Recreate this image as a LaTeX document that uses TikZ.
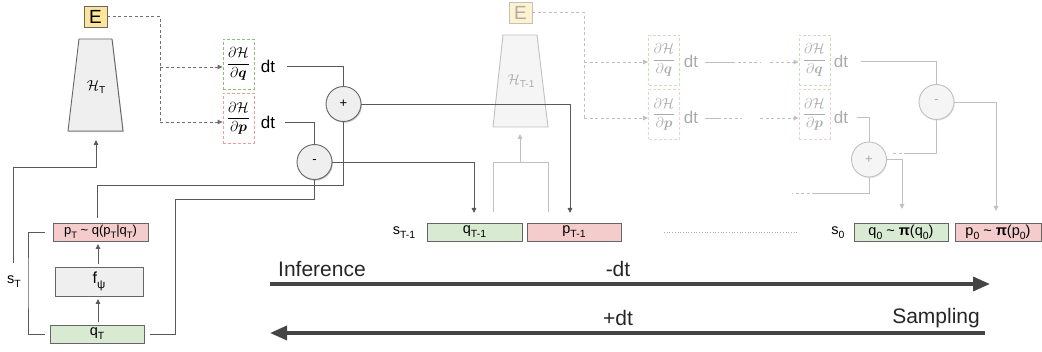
\documentclass[tikz,border=0pt]{standalone}
\usepackage{fontspec}
\usepackage{amsmath}
\usepackage{graphicx}
\setmainfont{Liberation Sans}
\usetikzlibrary{arrows.meta,shadows,calc}
\newcommand\lsub[1]{\raisebox{-0.5ex}{\scalebox{0.72}{#1}}}
\definecolor{ln}{HTML}{595959}
\definecolor{bd}{HTML}{666666}
\definecolor{gfill}{HTML}{D9EAD3}
\definecolor{rfill}{HTML}{F4CCCC}
\definecolor{grayfill}{HTML}{EFEFEF}
\definecolor{ffill}{HTML}{F5F5F5}
\definecolor{yfill}{HTML}{FFE599}
\definecolor{yfade}{HTML}{FFF2CC}
\definecolor{fade}{HTML}{C0C0C0}
\definecolor{fadetext}{HTML}{ABABAB}
\definecolor{dashc}{HTML}{6F6F6F}
\definecolor{gdash}{HTML}{8CC07A}
\definecolor{rdash}{HTML}{EA9F9F}
\definecolor{gdashf}{HTML}{C6E0BC}
\definecolor{rdashf}{HTML}{F4CFCF}
\definecolor{bigarr}{HTML}{454545}
\tikzset{
  shd/.style={drop shadow={shadow xshift=0.8pt,shadow yshift=-1.2pt,opacity=0.35,fill=black!70}},
  shdf/.style={drop shadow={shadow xshift=0.8pt,shadow yshift=-1.2pt,opacity=0.12,fill=black!70}},
  cl/.style={draw=ln, line width=0.9pt},
  fl/.style={draw=fade, line width=0.9pt},
  arr/.style={-{Triangle[length=5pt,width=4.5pt]}},
  dl/.style={draw=dashc, line width=0.9pt, dash pattern=on 3pt off 2.5pt},
  dlf/.style={draw=fade, line width=0.9pt, dash pattern=on 3pt off 2.5pt},
  ebox/.style={draw=bd, fill=yfill, line width=0.8pt, minimum width=23, minimum height=21, inner sep=0, font=\fontsize{19}{20}\selectfont, shd},
  eboxf/.style={draw=fade, fill=yfade, text=fadetext, line width=0.8pt, minimum width=23, minimum height=21, inner sep=0, font=\fontsize{19}{20}\selectfont},
  frac/.style={minimum width=31, minimum height=50, inner sep=0, line width=0.8pt, dash pattern=on 3pt off 2pt, font=\fontsize{15}{17}\selectfont},
  dtl/.style={inner sep=0, font=\fontsize{17}{18}\selectfont},
  sumc/.style={circle, draw=bd, fill=grayfill, line width=0.9pt, minimum size=35, inner sep=0, font=\fontsize{13}{14}\selectfont, shd},
  sumcf/.style={circle, draw=fade, fill=ffill, text=fadetext, line width=0.9pt, minimum size=35, inner sep=0, font=\fontsize{13}{14}\selectfont, shdf},
  sbox/.style={draw=bd, line width=0.9pt, minimum height=18, inner sep=0, font=\fontsize{14.5}{15}\selectfont, shd},
  lbl/.style={inner sep=0, font=\fontsize{14.5}{15}\selectfont},
  big/.style={draw=bigarr, line width=3.5pt, -{Triangle[length=17pt,width=14pt]}},
  bigl/.style={inner sep=0, font=\fontsize{21}{22}\selectfont, text=black!85}
}
\begin{document}
\begin{tikzpicture}[x=1pt,y=-1pt]
\useasboundingbox (0,0) rectangle (1042,352);
% ---------- block T ----------
\node[ebox] (E1) at (95.5,16.5) {E};
\draw[draw=bd, fill=grayfill, line width=0.9pt, shd] (79,39) -- (112,39) -- (123,131) -- (68,131) -- cycle;
\node[inner sep=0, font=\fontsize{14}{15}\selectfont] (H1) at (96,87) {$\mathcal{H}$\lsub{T}};
\coordinate (H1b) at (96,140);
\node[frac, draw=gdash] (dq1) at (238.5,64) {$\dfrac{\partial\mathcal{H}}{\partial\boldsymbol{q}}$};
\node[frac, draw=rdash] (dp1) at (238.5,118.5) {$\dfrac{\partial\mathcal{H}}{\partial\boldsymbol{p}}$};
\node[dtl] (dtq1) at (268,66) {dt};
\node[dtl] (dtp1) at (268,122) {dt};
\coordinate (E1j) at (160,16.5);
\draw[dl] (E1.east) -- (E1j) -- (160,122);
\draw[dl,arr] (160,67) -- (dq1.west |- 0,67);
\draw[dl,arr] (160,122) -- (dp1.west |- 0,122);
\node[sumc] (plus1) at (343.5,104) {+};
\node[sumc] (minus1) at (314.5,162) {-};
% left column
\node[sbox, fill=rfill, minimum width=95, font=\fontsize{13}{13}\selectfont] (pT) at (100.5,232) {p\lsub{T} \textasciitilde{} q(p\lsub{T}|q\lsub{T})};
\node[sbox, fill=grayfill, minimum width=88, minimum height=29, font=\fontsize{16}{16}\selectfont] (fpsi) at (99,281.5) {f\lsub{ψ}};
\node[sbox, fill=gfill, minimum width=94] (qT) at (97,334) {q\lsub{T}};
\node[lbl] (sT) at (14,282) {s\lsub{T}};
\draw[cl,arr,shorten <=3pt,shorten >=3pt] (98,325) -- (98,296);
\draw[cl,arr,shorten <=3pt,shorten >=3pt] (98,267) -- (98,241);
\draw[cl,shorten <=8pt,shorten >=5pt] (pT.west) -| (28,283) |- (qT.west);
\coordinate (sTup) at (13,263);
\draw[cl,arr] (sTup) |- (96,167) -- (H1b);
% connectors to sums
\draw[cl,shorten <=12pt] (dtq1.east) -| (plus1.north);
\draw[cl,shorten <=10pt] (dtp1.east) -| (minus1.north);
\coordinate (a1) at (97,185);
\draw[cl,shorten >=5pt] (plus1.south) |- (a1) -- (a1 |- pT.north);
\coordinate (b1) at (175,199);
\draw[cl,shorten >=6pt] (minus1.south) |- (b1) |- (qT.east);
% ---------- bottom row ----------
\node[sbox, fill=gfill, minimum width=95] (qTm) at (474.5,232) {q\lsub{T-1}};
\node[sbox, fill=rfill, minimum width=94] (pTm) at (574,232) {p\lsub{T-1}};
\node[sbox, fill=gfill, minimum width=94] (q0) at (901,232) {q\lsub{0} \textasciitilde{} \textbf{π}(q\lsub{0})};
\node[sbox, fill=rfill, minimum width=86] (p0) at (998,232) {p\lsub{0} \textasciitilde{} \textbf{π}(p\lsub{0})};
\node[lbl] (sTm) at (404,233) {s\lsub{T-1}};
\node[lbl] (s0) at (838,233) {s\lsub{0}};
\coordinate (dots1) at (664,232);
\coordinate (dots2) at (798,232);
\draw[draw=fadetext, line width=0.7pt, dotted] (dots1) -- (dots2);
% outputs of block T
\coordinate (pTmin) at (570,213);
\coordinate (qTmin) at (474,213);
\draw[cl,arr] (plus1.east) -| (pTmin);
\draw[cl,arr] (minus1.east) -| (qTmin);
% ---------- block T-1 (faded) ----------
\node[eboxf] (E2) at (520.5,12.5) {E};
\draw[draw=fade, fill=ffill, line width=0.9pt] (503,35) -- (537,35) -- (548,127) -- (493,127) -- cycle;
\node[inner sep=0, text=fadetext, font=\fontsize{14}{15}\selectfont] (H2) at (521,81) {$\mathcal{H}$\lsub{T-1}};
\coordinate (H2b) at (520,134);
% redraw output line of + on top of trapezoid
\draw[cl] (plus1.east) -- (570,104);
\draw[fl] (493,212) |- (548,162) -- (548,212);
\draw[fl,arr] (520,162) -- (H2b);
\node[frac, draw=gdashf, text=fadetext] (dq2) at (664,60) {$\dfrac{\partial\mathcal{H}}{\partial\boldsymbol{q}}$};
\node[frac, draw=rdashf, text=fadetext] (dp2) at (664,114.5) {$\dfrac{\partial\mathcal{H}}{\partial\boldsymbol{p}}$};
\node[dtl, text=fadetext] (dtq2) at (691,61) {dt};
\node[dtl, text=fadetext] (dtp2) at (691,117) {dt};
\coordinate (E2j) at (584,12.5);
\draw[dlf] (E2.east) -- (E2j) -- (584,118);
\draw[dlf,arr] (584,62) -- (dq2.west |- 0,62);
\draw[dlf,arr] (584,118) -- (dp2.west |- 0,118);
% fading links to block 0
\node[frac, draw=gdashf, text=fadetext] (dq3) at (814.5,60) {$\dfrac{\partial\mathcal{H}}{\partial\boldsymbol{q}}$};
\node[frac, draw=rdashf, text=fadetext] (dp3) at (814.5,114.5) {$\dfrac{\partial\mathcal{H}}{\partial\boldsymbol{p}}$};
\node[dtl, text=fadetext] (dtq3) at (841,61) {dt};
\node[dtl, text=fadetext] (dtp3) at (841,117) {dt};
\draw[fl] (705,62) -- (732,62);
\draw[dlf] (732,62) -- (760,62);
\draw[dlf,arr] (770,62) -- (dq3.west |- 0,62);
\draw[fl] (705,118) -- (718,118);
\draw[dlf] (718,118) -- (742,118);
\draw[dlf,arr] (760,118) -- (dp3.west |- 0,118);
% ---------- block 0 (faded) ----------
\node[sumcf] (minus3) at (936.5,102) {-};
\node[sumcf] (plus3) at (869,159.5) {+};
\draw[fl,shorten <=13pt] (dtq3.east) -| (minus3.north);
\draw[fl,shorten <=9pt] (dtp3.east) -| (plus3.north);
\coordinate (p0in) at (996,211);
\coordinate (q0in) at (902,209);
\draw[fl,arr] (minus3.east) -| (p0in);
\draw[fl,arr] (plus3.east) -| (q0in);
\draw[fl] (minus3.south) |- (907,153);
\draw[dlf] (907,153) -- (892,153);
\draw[fl] (plus3.south) |- (815,193);
\draw[dlf] (815,193) -- (792,193);
% ---------- big arrows ----------
\coordinate (inf1) at (270,284);
\coordinate (inf2) at (990,284);
\coordinate (sam1) at (985,333);
\coordinate (sam2) at (270,333);
\draw[big] (inf1) -- (inf2);
\draw[big] (sam1) -- (sam2);
\node[bigl, anchor=west] (inf) at (278,269) {Inference};
\node[bigl] (mdt) at (618,269) {-dt};
\node[bigl] (pdt) at (618,318) {+dt};
\node[bigl, anchor=east] (sam) at (980,318) {Sampling};
\end{tikzpicture}
\end{document}
